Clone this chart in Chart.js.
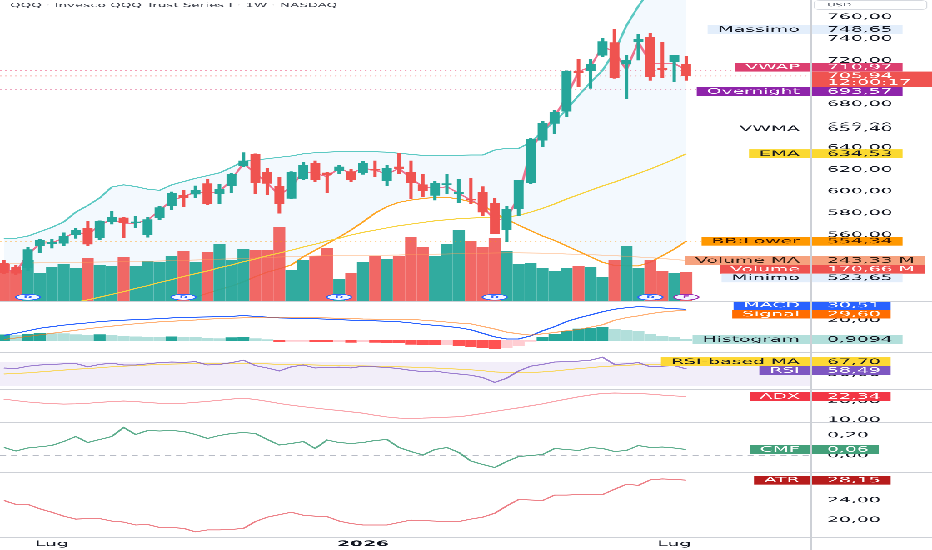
<!DOCTYPE html>
<html>
<head>
<meta charset="utf-8">
<script src="https://cdn.jsdelivr.net/npm/chart.js@4.4.1/dist/chart.umd.min.js"></script>
<style>
  html, body { margin: 0; padding: 0; background: #fff; overflow: hidden; }
  #wrap { position: absolute; left: 0; top: 0; width: 373px; height: 550px; transform: scaleX(2.49866); transform-origin: 0 0; }
  #wrap canvas { position: absolute; left: 0; }
  .sep { position: absolute; left: 0; width: 373px; height: 1px; background: #cdd0d6; }
  .vsep { position: absolute; left: 324.4px; top: 0; width: 0.45px; height: 550px; background: #cdd0d6; }
</style>
</head>
<body>
<div id="wrap">
  <canvas id="cPrice" width="373" height="301" style="top:0"></canvas>
  <canvas id="cMacd" width="373" height="50" style="top:302px"></canvas>
  <canvas id="cRsi" width="373" height="36" style="top:353px"></canvas>
  <canvas id="cAdx" width="373" height="32" style="top:390px"></canvas>
  <canvas id="cCmf" width="373" height="49" style="top:423px"></canvas>
  <canvas id="cAtr" width="373" height="77" style="top:473px"></canvas>
  <div class="sep" style="top:301px"></div>
  <div class="sep" style="top:352px"></div>
  <div class="sep" style="top:389px"></div>
  <div class="sep" style="top:422px"></div>
  <div class="sep" style="top:472px"></div>
  <div class="sep" style="top:537px"></div>
  <div class="vsep"></div>
</div>
<script>
// weekly bars, QQQ 1W
const xTickIndex = [4, 30, 56];
const xTickNames = ['Lug', '2026', 'Lug'];

const opens  = [534, 530, 530, 550, 552, 552.5, 560, 566, 557.5, 572.5,
  575.7, 571, 560, 576, 587, 596.5, 597.5, 607, 598, 605,
  623.6, 634, 617.5, 604.4, 593.7, 612, 626, 617, 619, 618,
  617.5, 620.5, 610, 622.5, 617.5, 606, 596.5, 606, 598, 593,
  599, 589, 565, 584.5, 608, 647, 662.5, 673.6, 710, 710.7,
  725, 736.4, 716.8, 737.3, 741.4, 713, 719, 716.6];
const highs  = [536.5, 532, 549, 556, 556, 562, 566, 572.5, 573, 582,
  576.5, 577, 576, 586.5, 599.5, 601, 605, 611, 606.5, 616.5,
  635.5, 634.5, 621, 613, 618, 627, 628, 617.5, 624, 620,
  627.5, 628, 624, 635, 628, 616, 609, 616, 611, 612,
  604.3, 593.7, 586.6, 610.5, 649, 664, 674.7, 710.6, 721, 721,
  740.5, 748.65, 724.5, 744, 745, 736.8, 725, 723.6];
const lows   = [524.5, 523.65, 527.5, 544, 548, 550, 557, 550, 556, 570,
  557.5, 567, 558, 574, 583, 586, 594, 588, 589, 599,
  623, 598, 596.7, 580, 593, 611, 609, 599, 616.5, 609,
  615.7, 613.5, 605.5, 616.5, 593.5, 595, 592, 598, 590, 589,
  578, 561, 554, 577.4, 607, 641, 653.3, 668.5, 696, 694.6,
  723.6, 703.8, 685.4, 720.5, 702, 704.3, 700.6, 702];
const closes = [525.5, 525, 546.5, 555, 553, 559, 564.5, 551.7, 572.5, 576,
  571.6, 572, 574, 585, 598, 594.5, 601, 588.5, 602, 615.5,
  628, 608.3, 607.5, 589, 617.5, 624, 611, 615.5, 622.5, 611,
  626, 619.5, 621, 621, 608, 600.5, 607.5, 607, 599, 592,
  581, 561.5, 583.6, 610, 648, 662.5, 672.5, 710.5, 709, 716.6,
  737.3, 704.3, 720.5, 739.8, 705.2, 711.5, 724.8, 705.94];

// volume in millions
const volumes = [220, 186, 246, 164, 200, 220, 196, 256, 216, 210,
  260, 206, 236, 234, 270, 298, 230, 294, 340, 244,
  312, 306, 304, 444, 184, 246, 270, 316, 130, 166,
  234, 270, 250, 270, 382, 320, 270, 340, 422, 356,
  320, 374, 298, 220, 228, 198, 178, 198, 206, 202,
  140, 246, 330, 194, 246, 178, 168, 170.66];
const volumeMA = [225, 226, 228, 229, 230, 231, 232, 233, 234, 235,
  236, 237, 238, 240, 242, 244, 246, 248, 251, 253,
  256, 258, 261, 264, 266, 268, 270, 272, 272, 272,
  273, 274, 275, 276, 278, 280, 281, 282, 284, 286,
  287, 288, 289, 289, 288, 287, 285, 282, 280, 278,
  275, 272, 268, 264, 260, 255, 249, 243.33];

const vwap = [527.9, 526.4, 541.7, 552.4, 553, 557, 563, 560, 569.2, 574.4,
  570.7, 570.7, 573.8, 582.3, 592, 595, 599.7, 598, 599.7, 610.5,
  625.8, 616.6, 607.4, 596.7, 604.3, 618, 616.6, 613.5, 621.2, 616.6,
  621.2, 619.6, 615.7, 621.2, 612, 604.3, 602.8, 604.3, 598.2, 592,
  586, 573.8, 575.3, 595, 638, 654.8, 668.5, 686.9, 709.8, 714.4,
  732.8, 728.2, 711.4, 737.3, 717.5, 717.5, 717.5, 710.97];
const bbUpper = [557, 557, 559, 563, 567, 572, 581, 587, 594, 604,
  606, 604.5, 602, 601, 606, 609, 612, 614.5, 617, 622,
  627.5, 628.8, 630, 631.3, 632.5, 634.5, 635.5, 636, 636.5, 636.4,
  636.4, 636.4, 636, 635, 634, 633, 632.8, 633, 633.2, 633.4,
  633.4, 638, 639.5, 639.5, 645, 655, 664, 675, 688, 700,
  711, 728, 752, 770, 785, 795, 800, 805];
const bbLower = [470, 472, 474, 478, 480, 482, 484, 487, 489, 490,
  492, 494, 496, 497, 499, 501, 503, 506.5, 510, 513,
  517, 521.8, 526, 529, 532.5, 540, 546, 552, 558, 564.6,
  572, 580, 586, 590, 592, 593.5, 594.5, 594.6, 593, 590.5,
  587.5, 580, 574.4, 569, 564, 559, 555, 550, 545, 540,
  535, 532, 531.6, 531.6, 535, 541, 547, 554.34];
const ema = [486, 488, 490, 492.5, 494.5, 496.5, 498.5, 500.5, 503, 505.5,
  508, 511, 513.5, 516.5, 519, 522, 524.5, 527, 530, 532.5,
  535.5, 538, 541, 543.5, 546, 549, 551.5, 554.5, 557, 560,
  562.5, 564.5, 566.5, 568.5, 570, 571.5, 573, 574, 575, 575.5,
  576, 576.2, 576.5, 578, 581, 584.5, 588.5, 593, 597, 601,
  605, 608.5, 612.5, 616.5, 620.5, 625, 629.5, 634.53];
const overnightLevel = 693.57;
const vwmaLast = 657.40;
const countdown = '12:00:17';
const dividendIndex = [2, 15, 28, 41, 54];
const earningsIndex = [57];

const macdLine = [5, 7, 9.5, 12, 13.5, 15, 16.2, 17.2, 18.5, 19.2,
  19.8, 20.3, 20.8, 21.3, 22, 22.4, 22.8, 23, 23.2, 23.6,
  24.3, 23.6, 22.8, 22, 21.8, 21.5, 21.2, 20.8, 20.3, 19.8,
  19.6, 19.2, 18.8, 18.3, 17.2, 15.8, 14.8, 13.8, 12.5, 10.5,
  7, 3.5, 1.5, 1.5, 4.5, 9.5, 13.5, 18.5, 22, 25,
  28, 30.5, 32, 33, 32.5, 31.8, 31, 30.51];
const signalLine = [1, 2.5, 4, 5.5, 7, 8.5, 10, 11.5, 12.8, 14,
  15.2, 16.3, 17.3, 18.2, 18.8, 19.4, 20, 20.8, 21.4, 21.8,
  22.1, 22.1, 22.1, 22.2, 22.3, 22.2, 22.2, 22, 21.6, 21.4,
  21, 20.8, 20.5, 20.3, 20.7, 19.8, 19, 18, 17, 16.3,
  13.7, 11.2, 8.2, 6.5, 5.2, 6.5, 7.8, 9.5, 10.7, 13,
  15.3, 19.8, 22.3, 24, 26.2, 27.8, 28.8, 29.6];
const histogram = [5.5, 5, 6.3, 7.3, 6.6, 6.6, 5.6, 5.3, 5.6, 5.3,
  4.3, 3.6, 3, 3, 3.6, 3, 3, 2, 1.7, 2.7,
  3.3, 1.7, 0.7, -1, -0.7, -0.7, -1.3, -1.4, -1.3, -1.7,
  -1.3, -1.7, -1.8, -2, -3.7, -4, -4.3, -4.3, -4.7, -6,
  -6.7, -7.7, -6.7, -5, -0.7, 3, 5.7, 9, 11.3, 12,
  12.7, 10.7, 9.7, 9, 6.3, 4, 3, 0.9094];

const rsi = [60, 59, 63, 65, 66, 67, 67.5, 62, 66, 68,
  65, 65, 67, 69, 70, 69.5, 70.5, 65, 66, 69,
  73, 64, 60, 55, 62, 65, 60, 61, 61.5, 60,
  63, 62, 61, 59, 56, 54, 55, 52, 50, 48,
  44, 36, 43, 55, 63, 66, 70, 70.5, 71.5, 73,
  78, 66, 67, 69, 62, 63, 64, 58.49];
const rsiMA = [50, 51, 52, 53.5, 55, 56.5, 58, 59, 60.5, 62,
  63, 64, 65, 66, 66.5, 67, 67.5, 67.5, 67.5, 67.8,
  68, 67.5, 67, 66, 65.5, 65.5, 65, 64.5, 64, 63.5,
  63.5, 63, 62.5, 62, 61.5, 60.5, 60, 59, 58, 57,
  55.5, 53.5, 52.5, 52, 52.5, 53.5, 55, 57, 59, 60.5,
  62.5, 63.5, 64.5, 65.5, 66, 66.5, 67.2, 67.7];
const adx = [21, 20.2, 19.5, 19, 18.6, 18.4, 18.5, 18.8, 19.3, 19.7,
  20, 19.7, 19.2, 18.8, 18.6, 18.8, 19.3, 19.8, 20.4, 21,
  21.5, 20.8, 19.8, 18.7, 17.8, 17, 16.3, 15.6, 15, 14.3,
  13.6, 12.5, 11.6, 11, 10.9, 11, 11.2, 11.5, 11.7, 12.5,
  13.5, 14.5, 15.5, 16.4, 17.5, 18.5, 19.8, 21, 22.2, 23.2,
  24, 24.2, 24.1, 24, 23.6, 23.1, 22.7, 22.34];
const cmf = [0.08, 0.045, 0.075, 0.087, 0.1, 0.14, 0.19, 0.13, 0.16, 0.19,
  0.28, 0.21, 0.25, 0.245, 0.25, 0.24, 0.21, 0.17, 0.2, 0.22,
  0.23, 0.22, 0.16, 0.105, 0.12, 0.14, 0.07, 0.155, 0.13, 0.12,
  0.13, 0.15, 0.16, 0.08, 0.04, 0.005, 0.06, 0.08, 0.03, -0.055,
  -0.09, -0.12, -0.06, -0.01, 0, 0.01, 0.07, 0.06, 0.05, 0.08,
  0.07, 0.04, 0.05, 0.1, 0.08, 0.085, 0.075, 0.06];
const atr = [24, 23.2, 23.2, 22.3, 21.6, 20.8, 20.2, 20.3, 20.3, 19.8,
  19.6, 19, 19.1, 18.5, 18.5, 18.3, 17.6, 18, 18, 18.1,
  18.3, 19.7, 20.6, 21.1, 21.6, 21, 20.8, 20.7, 19.8, 19.3,
  19, 19, 19, 19.5, 20, 19.9, 19.8, 19.7, 19.7, 20.2,
  20.6, 21.4, 22.9, 24.2, 24.1, 24, 25.1, 25.1, 25.2, 25.2,
  25.2, 26.3, 27.3, 27.1, 28.2, 28.4, 28.3, 28.15];

const priceTicks = [560, 580, 600, 620, 640, 660, 680, 700, 720, 740, 760];
const macdTicks = [20];
const rsiTicks = [50];
const adxTicks = [20, 10];
const cmfTicks = [0.2, 0];
const atrTicks = [24, 20];

// ---- layout / style ----
const FONT = "'DejaVu Sans', sans-serif";
const W = 373, K = 932 / W;
const PLOT_R = 811 / K;
const X_MIN = -0.334, X_MAX = 67.42;
const UP = '#26a69a', DOWN = '#ef5350';
Chart.defaults.font.family = FONT;
Chart.defaults.font.size = 7.5;
Chart.defaults.color = '#131722';

const last = a => a[a.length - 1];
const fmt = (v, d = 2) => v.toFixed(d).replace('.', ',');
const pts = arr => arr.map((v, i) => ({ x: i, y: v }));
const isUp = i => closes[i] >= opens[i];
const noPad = s => { s.paddingTop = 0; s.paddingBottom = 0; s.paddingLeft = 0; s.paddingRight = 0; };

function line(data, color, extra) {
  return Object.assign({ type: 'line', data: pts(data), borderColor: color, borderWidth: 1,
    pointRadius: 0, tension: 0, fill: false }, extra);
}
function level(v, color, extra) {
  return Object.assign({ type: 'line', data: [{ x: X_MIN, y: v }, { x: X_MAX, y: v }], borderColor: color,
    borderWidth: 0.9, borderDash: [0.7, 1.3], pointRadius: 0, fill: false }, extra);
}
function xScale(show) {
  return {
    type: 'linear', min: X_MIN, max: X_MAX, offset: false, display: show,
    grid: { display: false, drawTicks: false }, border: { display: false },
    afterBuildTicks: s => { s.ticks = xTickIndex.map(v => ({ value: v })); },
    afterFit: s => { s.height = show ? 13 : 0; noPad(s); },
    ticks: {
      autoSkip: false, maxRotation: 0, padding: 2.5, color: '#131722',
      font: c => ({ family: FONT, size: 7.5, weight: (c.tick && xTickNames[xTickIndex.indexOf(c.tick.value)] === '2026') ? 'bold' : 'normal' }),
      callback: v => xTickNames[xTickIndex.indexOf(v)]
    }
  };
}
function yScale(min, max, ticks, extra) {
  return Object.assign({
    position: 'right', min, max, grid: { display: false, drawTicks: false }, border: { display: false },
    afterBuildTicks: s => { s.ticks = ticks.map(v => ({ value: v })); },
    afterFit: s => { s.width = W - PLOT_R; noPad(s); },
    ticks: { padding: 6.4, color: '#131722', font: { family: FONT, size: 7.5 }, callback: v => fmt(v) }
  }, extra);
}
function baseOptions(scales) {
  return { responsive: false, animation: false, devicePixelRatio: 3, events: [],
    layout: { padding: 0 }, plugins: { legend: { display: false }, tooltip: { enabled: false } }, scales };
}

// axis tags: overlapping tags are grouped; a group holding the main price tag keeps that tag in place
function layoutTags(items) {
  items.sort((a, b) => a.y - b.y);
  const place = g => {
    const anchor = g.items.find(t => t.full);
    if (anchor) {
      let before = 0;
      for (const t of g.items) { if (t === anchor) break; before += t.h; }
      g.c = anchor.y - anchor.h / 2 - before + g.h / 2;
    } else {
      g.c = g.items.reduce((s, t) => s + t.y, 0) / g.items.length;
    }
  };
  let groups = items.map(t => ({ items: [t], h: t.h, c: t.y }));
  let changed = true;
  while (changed) {
    changed = false;
    for (let i = 0; i < groups.length - 1; i++) {
      const a = groups[i], b = groups[i + 1];
      if (a.c + a.h / 2 > b.c - b.h / 2 + 0.3) {
        const g = { items: a.items.concat(b.items), h: a.h + b.h };
        place(g);
        groups.splice(i, 2, g);
        changed = true;
        break;
      }
    }
  }
  groups.forEach(g => { let top = g.c - g.h / 2; g.items.forEach(t => { t.top = top; top += t.h; }); });
}
function tagPlugin(tags) {
  return {
    id: 'tags',
    afterDraw(chart) {
      const ctx = chart.ctx, area = chart.chartArea;
      const H1 = 8.8, H2 = 15.5;
      const items = tags.map(t => {
        const py = chart.scales[t.axis || 'y'].getPixelForValue(t.value);
        const h = t.sub ? H2 : H1;
        return Object.assign({ y: py + (h - H1) / 2, h }, t);
      });
      layoutTags(items);
      ctx.save();
      ctx.font = `7.5px ${FONT}`;
      ctx.textBaseline = 'middle';
      items.forEach(t => {
        const tx = area.right + 6.4;
        const tw = Math.max(ctx.measureText(t.text).width, t.sub ? ctx.measureText(t.sub).width : 0);
        const right = t.full ? chart.width : tx + tw + 4;
        ctx.fillStyle = t.bg;
        ctx.fillRect(area.right + 0.4, t.top, right - area.right - 0.4, t.h);
        ctx.fillStyle = t.fg;
        ctx.textAlign = 'left';
        ctx.fillText(t.text, tx, t.top + 4.6);
        if (t.sub) ctx.fillText(t.sub, tx, t.top + 11.2);
        if (t.name) {
          const nw = ctx.measureText(t.name).width + 8;
          const nx = area.right - 0.5 - nw;
          if (t.nameBg) { ctx.fillStyle = t.nameBg; ctx.fillRect(nx, t.top, nw, t.h); }
          ctx.fillStyle = t.nameFg || t.fg;
          ctx.textAlign = 'center';
          ctx.fillText(t.name, nx + nw / 2, t.top + 4.6);
        }
      });
      ctx.restore();
    }
  };
}
function marker(ctx, x, y, color, letter) {
  ctx.save();
  ctx.beginPath();
  ctx.ellipse(x, y, 4.9, 2.9, 0, 0, Math.PI * 2);
  ctx.fillStyle = '#f4f7ff';
  ctx.fill();
  ctx.lineWidth = 0.7;
  ctx.strokeStyle = color;
  ctx.stroke();
  ctx.fillStyle = color;
  ctx.font = `bold 4px ${FONT}`;
  ctx.textAlign = 'center';
  ctx.textBaseline = 'middle';
  ctx.fillText(letter, x, y + 0.2);
  ctx.restore();
}
const priceDecor = {
  id: 'priceDecor',
  afterDatasetsDraw(chart) {
    const ctx = chart.ctx, xs = chart.scales.x, area = chart.chartArea;
    dividendIndex.forEach(i => marker(ctx, xs.getPixelForValue(i), area.bottom - 3.8, '#2962ff', 'D'));
    earningsIndex.forEach(i => marker(ctx, xs.getPixelForValue(i), area.bottom - 3.8, '#9c27b0', 'E'));
  },
  afterDraw(chart) {
    const ctx = chart.ctx;
    ctx.save();
    const title = 'QQQ · Invesco QQQ Trust Series I · 1W · NASDAQ';
    ctx.font = `5.8px ${FONT}`;
    ctx.fillStyle = '#3e424d';
    ctx.textBaseline = 'middle';
    const tw = ctx.measureText(title).width;
    ctx.translate(4, 5.4);
    ctx.scale(131 / tw, 1);
    ctx.fillText(title, 0, 0);
    ctx.restore();
    ctx.save();
    ctx.strokeStyle = '#d6d9df';
    ctx.lineWidth = 0.4;
    ctx.beginPath();
    ctx.roundRect(PLOT_R + 1.3, 0.5, 45, 9, 2);
    ctx.stroke();
    ctx.font = `4.6px ${FONT}`;
    ctx.fillStyle = '#555a66';
    ctx.textBaseline = 'middle';
    ctx.fillText('USD', PLOT_R + 6.4, 5.2);
    ctx.restore();
  }
};
function bandPlugin(fillFrom, fillTo, fillColor, lines) {
  return {
    id: 'bands',
    beforeDatasetsDraw(chart) {
      const ctx = chart.ctx, ys = chart.scales.y, area = chart.chartArea;
      ctx.save();
      if (fillColor) {
        const a = ys.getPixelForValue(fillFrom), b = ys.getPixelForValue(fillTo);
        ctx.fillStyle = fillColor;
        ctx.fillRect(area.left, a, area.right - area.left, b - a);
      }
      ctx.strokeStyle = '#b8bcc6';
      ctx.lineWidth = 0.7;
      ctx.setLineDash([2.4, 2]);
      lines.forEach(v => {
        const y = ys.getPixelForValue(v);
        ctx.beginPath(); ctx.moveTo(area.left, y); ctx.lineTo(area.right, y); ctx.stroke();
      });
      ctx.restore();
    }
  };
}

// ---- price pane ----
new Chart(document.getElementById('cPrice'), {
  type: 'bar',
  data: {
    datasets: [
      line(bbUpper, '#5cc9c3', { fill: '+1', backgroundColor: 'rgba(33,150,243,0.055)', order: 10 }),
      line(bbLower, 'rgba(255,152,0,0.85)', { order: 9 }),
      { type: 'bar', yAxisID: 'yVol', data: pts(volumes), order: 8, grouped: false,
        barPercentage: 1, categoryPercentage: 1, maxBarThickness: 4.1,
        backgroundColor: c => isUp(c.dataIndex) ? 'rgba(38,166,154,0.95)' : 'rgba(239,83,80,0.88)' },
      line(volumeMA, 'rgba(255,160,90,0.45)', { yAxisID: 'yVol', order: 7 }),
      line(ema, '#f7d23e', { order: 6 }),
      level(last(bbLower), 'rgba(255,152,0,0.55)', { order: 5 }),
      level(last(vwap), 'rgba(233,77,120,0.55)', { order: 5 }),
      level(last(closes), 'rgba(239,83,80,0.55)', { order: 5 }),
      level(overnightLevel, 'rgba(220,80,130,0.5)', { order: 5 }),
      line(vwap, 'rgba(236,90,125,0.85)', { order: 4 }),
      { type: 'bar', data: highs.map((h, i) => ({ x: i, y: [lows[i], h] })), order: 2, grouped: false,
        barPercentage: 1, categoryPercentage: 1, maxBarThickness: 0.7,
        backgroundColor: c => isUp(c.dataIndex) ? UP : DOWN },
      { type: 'bar', data: closes.map((cl, i) => ({ x: i, y: [opens[i], cl] })), order: 1, grouped: false,
        barPercentage: 1, categoryPercentage: 1, maxBarThickness: 3.3, minBarLength: 0.8,
        backgroundColor: c => isUp(c.dataIndex) ? UP : DOWN }
    ]
  },
  options: baseOptions({
    x: xScale(false),
    y: yScale(499.45, 775.6, priceTicks),
    yVol: { display: false, min: 0, max: 1806, afterFit: noPad }
  }),
  plugins: [priceDecor, tagPlugin([
    { value: Math.max(...highs), text: fmt(Math.max(...highs)), name: 'Massimo', bg: '#e3eefb', nameBg: '#e3eefb', fg: '#131722' },
    { value: last(vwap), text: fmt(last(vwap)), name: 'VWAP', bg: '#dc3f70', nameBg: '#dc3f70', fg: '#fff' },
    { value: last(closes), text: fmt(last(closes)), sub: countdown, bg: '#ef5350', fg: '#fff', full: true },
    { value: overnightLevel, text: fmt(overnightLevel), name: 'Overnight', bg: '#8e24aa', nameBg: '#8e24aa', fg: '#fff' },
    { value: vwmaLast, text: fmt(vwmaLast), name: 'VWMA', bg: '#fff', fg: '#131722' },
    { value: last(ema), text: fmt(last(ema)), name: 'EMA', bg: '#fbd930', nameBg: '#fbd930', fg: '#131722' },
    { value: last(bbLower), text: fmt(last(bbLower)), name: 'BB:Lower', bg: '#ff9800', nameBg: '#ff9800', fg: '#3a1500' },
    { axis: 'yVol', value: last(volumeMA), text: fmt(last(volumeMA)) + ' M', name: 'Volume MA', bg: '#f6a27e', nameBg: '#f6a27e', fg: '#2a1a10' },
    { axis: 'yVol', value: last(volumes), text: fmt(last(volumes)) + ' M', name: 'Volume', bg: '#ef5350', nameBg: '#ef5350', fg: '#fff' },
    { value: Math.min(...lows), text: fmt(Math.min(...lows)), name: 'Minimo', bg: '#e3eefb', nameBg: '#e3eefb', fg: '#131722' }
  ])]
});

// ---- MACD ----
new Chart(document.getElementById('cMacd'), {
  type: 'bar',
  data: {
    datasets: [
      { type: 'bar', data: pts(histogram), order: 3, grouped: false, barPercentage: 1, categoryPercentage: 1, maxBarThickness: 4.1,
        backgroundColor: c => {
          const i = c.dataIndex, v = histogram[i], p = i > 0 ? histogram[i - 1] : 0;
          if (v >= 0) return v > p ? '#26a69a' : '#b2dfdb';
          return v < p ? '#ff5252' : '#ffcdd2';
        } },
      line(macdLine, '#2962ff', { order: 2 }),
      line(signalLine, 'rgba(255,109,0,0.55)', { order: 1 })
    ]
  },
  options: baseOptions({ x: xScale(false), y: yScale(-11.22, 37.56, macdTicks) }),
  plugins: [tagPlugin([
    { value: last(macdLine), text: fmt(last(macdLine)), name: 'MACD', bg: '#2962ff', nameBg: '#2962ff', fg: '#fff' },
    { value: last(signalLine), text: fmt(last(signalLine)), name: 'Signal', bg: '#ff6d00', nameBg: '#ff6d00', fg: '#fff' },
    { value: last(histogram), text: fmt(last(histogram), 4), name: 'Histogram', bg: '#b2dfdb', nameBg: '#b2dfdb', fg: '#131722' }
  ])]
});

// ---- RSI ----
new Chart(document.getElementById('cRsi'), {
  type: 'line',
  data: { datasets: [
    line(rsiMA, 'rgba(250,210,60,0.8)', { order: 2 }),
    line(rsi, 'rgba(126,87,194,0.75)', { order: 1 })
  ] },
  options: baseOptions({ x: xScale(false), y: yScale(25, 85, rsiTicks) }),
  plugins: [bandPlugin(70, 30, 'rgba(126,87,194,0.1)', [70, 50, 30]), tagPlugin([
    { value: last(rsiMA), text: fmt(last(rsiMA)), name: 'RSI-based MA', bg: '#fdd835', nameBg: '#fdd835', fg: '#131722' },
    { value: last(rsi), text: fmt(last(rsi)), name: 'RSI', bg: '#7e57c2', nameBg: '#7e57c2', fg: '#fff' }
  ])]
});

// ---- ADX ----
new Chart(document.getElementById('cAdx'), {
  type: 'line',
  data: { datasets: [line(adx, 'rgba(242,54,69,0.45)')] },
  options: baseOptions({ x: xScale(false), y: yScale(8.95, 25.79, adxTicks) }),
  plugins: [tagPlugin([
    { value: last(adx), text: fmt(last(adx)), name: 'ADX', bg: '#f23645', nameBg: '#f23645', fg: '#fff' }
  ])]
});

// ---- CMF ----
new Chart(document.getElementById('cCmf'), {
  type: 'line',
  data: { datasets: [line(cmf, 'rgba(67,160,122,0.85)')] },
  options: baseOptions({ x: xScale(false), y: yScale(-0.165, 0.325, cmfTicks) }),
  plugins: [bandPlugin(0, 0, null, [0]), tagPlugin([
    { value: last(cmf), text: fmt(last(cmf)), name: 'CMF', bg: '#43a07a', nameBg: '#43a07a', fg: '#fff' }
  ])]
});

// ---- ATR + time axis ----
new Chart(document.getElementById('cAtr'), {
  type: 'line',
  data: { datasets: [line(atr, 'rgba(229,75,85,0.7)')] },
  options: baseOptions({ x: xScale(true), y: yScale(16.55, 29.61, atrTicks) }),
  plugins: [tagPlugin([
    { value: last(atr), text: fmt(last(atr)), name: 'ATR', bg: '#b71c1c', nameBg: '#b71c1c', fg: '#fff' }
  ])]
});
</script>
</body>
</html>
